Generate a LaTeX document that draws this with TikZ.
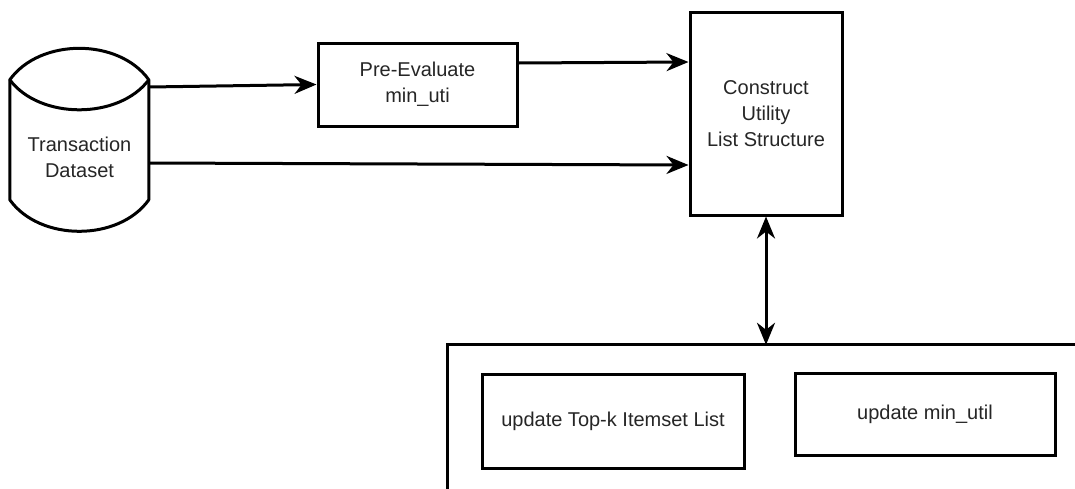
\documentclass[tikz,border=0pt]{standalone}
\usepackage{fontspec}
\setmainfont{Liberation Sans}
\usetikzlibrary{arrows.meta,calc}
\begin{document}
\begin{tikzpicture}[x=1pt,y=-1pt,
  every node/.style={font=\fontsize{20}{26}\selectfont, text=black!85, align=center, inner sep=0pt},
  box/.style={draw, line width=3pt, fill=white},
  conn/.style={line width=3pt, -{Stealth[length=22pt,width=18pt,inset=7pt]}},
  dconn/.style={line width=3pt, {Stealth[length=22pt,width=18pt,inset=7pt]}-{Stealth[length=22pt,width=18pt,inset=7pt]}}]
\clip (0,0) rectangle (1075,488);
\fill[white] (0,0) rectangle (1075,488);
% cylinder
\node[minimum width=139pt, minimum height=184pt] (ds) at (79.5,140) {};
\draw[line width=3pt, line join=round]
  ($(ds.north west)+(0,32)$) coordinate (c1)
  .. controls ($(c1)+(30,-42)$) and ($(c1)+(109,-42)$) .. ++(139,0) coordinate (c2)
  -- ++(0,120) coordinate (c3)
  .. controls ($(c3)+(-30,42)$) and ($(c3)+(-109,42)$) .. ++(-139,0)
  -- cycle;
\draw[line width=3pt] (c1) .. controls ($(c1)+(30,40)$) and ($(c1)+(109,40)$) .. (c2);
\node at (79.5,157) {Transaction\\Dataset};
% boxes
\node[box, minimum width=199pt, minimum height=83pt] (pre) at (417.5,84.5) {Pre-Evaluate\\min\_uti};
\node[box, minimum width=152pt, minimum height=203pt] (con) at (766,113.5) {Construct\\Utility\\List Structure};
\node[minimum width=640pt, minimum height=160pt] (big) at (768,425) {};
\draw[line width=3pt] (big.south west) -- (big.north west) -- (big.north east);
\node[box, minimum width=262pt, minimum height=94pt] (upd1) at (613,421.5) {update Top-k Itemset List};
\node[box, minimum width=260pt, minimum height=82pt] (upd2) at (925,414.5) {update min\_util};
% connectors
\draw[conn] ([yshift=53pt]ds.east) -- (pre.west);
\draw[conn] ([yshift=-23pt]ds.east) -- ([yshift=-51.5pt]con.west);
\draw[conn] ([yshift=21.5pt]pre.east) -- ([yshift=51.5pt]con.west);
\draw[dconn] (con.south) -- (con.south |- big.north);
\end{tikzpicture}
\end{document}
